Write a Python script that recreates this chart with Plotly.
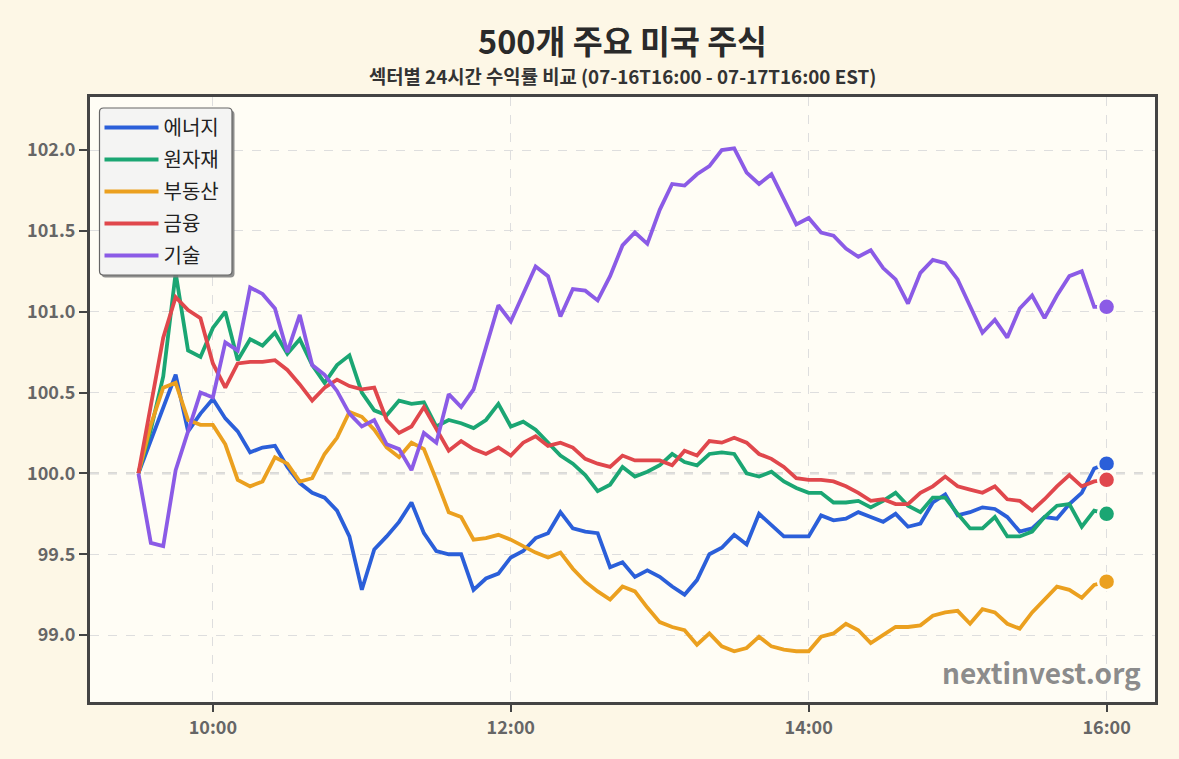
import pandas as pd
import plotly.graph_objects as go

times = pd.date_range("2024-07-17 09:30", "2024-07-17 16:00", freq="5min")

sector_names = ["에너지", "원자재", "부동산", "금융", "기술"]
sector_colors = ["#2b5fd9", "#1ba673", "#eba01f", "#e0474c", "#8b5be6"]

energy = [100.00, 100.20, 100.41, 100.61, 100.26, 100.37, 100.46, 100.34, 100.26, 100.13,
          100.16, 100.17, 100.04, 99.94, 99.88, 99.85, 99.77, 99.61, 99.28, 99.53,
          99.61, 99.70, 99.82, 99.63, 99.52, 99.50, 99.50, 99.28, 99.35, 99.38,
          99.48, 99.52, 99.60, 99.63, 99.76, 99.66, 99.64, 99.63, 99.42, 99.45,
          99.36, 99.40, 99.36, 99.30, 99.25, 99.34, 99.50, 99.54, 99.62, 99.56,
          99.75, 99.68, 99.61, 99.61, 99.61, 99.74, 99.71, 99.72, 99.76, 99.73,
          99.70, 99.75, 99.67, 99.69, 99.82, 99.87, 99.74, 99.76, 99.79, 99.78,
          99.73, 99.64, 99.66, 99.73, 99.72, 99.81, 99.88, 100.03, 100.06]

materials = [100.00, 100.27, 100.60, 101.24, 100.76, 100.72, 100.90, 101.00, 100.70, 100.83,
             100.79, 100.87, 100.74, 100.83, 100.67, 100.56, 100.67, 100.73, 100.50, 100.39,
             100.36, 100.45, 100.43, 100.44, 100.29, 100.33, 100.31, 100.28, 100.33, 100.43,
             100.29, 100.32, 100.27, 100.19, 100.11, 100.06, 99.99, 99.89, 99.93, 100.04,
             99.98, 100.01, 100.05, 100.12, 100.07, 100.05, 100.12, 100.13, 100.12, 100.00,
             99.98, 100.01, 99.95, 99.91, 99.88, 99.88, 99.82, 99.82, 99.83, 99.79,
             99.83, 99.88, 99.80, 99.76, 99.85, 99.85, 99.75, 99.66, 99.66, 99.73,
             99.61, 99.61, 99.64, 99.73, 99.80, 99.81, 99.67, 99.77, 99.75]

real_estate = [100.00, 100.30, 100.53, 100.56, 100.33, 100.30, 100.30, 100.18, 99.96, 99.92,
               99.95, 100.10, 100.06, 99.95, 99.97, 100.12, 100.22, 100.38, 100.35, 100.27,
               100.16, 100.10, 100.19, 100.15, 99.96, 99.76, 99.73, 99.59, 99.60, 99.62,
               99.59, 99.55, 99.51, 99.48, 99.51, 99.41, 99.33, 99.27, 99.22, 99.30,
               99.27, 99.17, 99.08, 99.05, 99.03, 98.94, 99.01, 98.93, 98.90, 98.92,
               98.99, 98.93, 98.91, 98.90, 98.90, 98.99, 99.01, 99.07, 99.03, 98.95,
               99.00, 99.05, 99.05, 99.06, 99.12, 99.14, 99.15, 99.07, 99.16, 99.14,
               99.07, 99.04, 99.14, 99.22, 99.30, 99.28, 99.23, 99.31, 99.33]

financials = [100.00, 100.42, 100.84, 101.09, 101.01, 100.96, 100.68, 100.53, 100.68, 100.69,
              100.69, 100.70, 100.64, 100.55, 100.45, 100.53, 100.58, 100.54, 100.52, 100.53,
              100.33, 100.25, 100.29, 100.41, 100.27, 100.14, 100.20, 100.15, 100.12, 100.16,
              100.11, 100.19, 100.23, 100.17, 100.19, 100.16, 100.09, 100.06, 100.04, 100.11,
              100.08, 100.08, 100.08, 100.05, 100.14, 100.11, 100.20, 100.19, 100.22, 100.19,
              100.12, 100.09, 100.04, 99.97, 99.96, 99.96, 99.95, 99.92, 99.88, 99.83,
              99.84, 99.81, 99.81, 99.88, 99.92, 99.98, 99.92, 99.90, 99.88, 99.92,
              99.84, 99.83, 99.77, 99.84, 99.92, 99.99, 99.92, 99.95, 99.96]

technology = [100.00, 99.57, 99.55, 100.02, 100.26, 100.50, 100.47, 100.81, 100.76, 101.15,
              101.11, 101.02, 100.75, 100.98, 100.67, 100.61, 100.51, 100.37, 100.29, 100.33,
              100.18, 100.15, 100.02, 100.25, 100.19, 100.49, 100.41, 100.52, 100.78, 101.04,
              100.94, 101.11, 101.28, 101.22, 100.97, 101.14, 101.13, 101.07, 101.22, 101.41,
              101.49, 101.42, 101.63, 101.79, 101.78, 101.85, 101.90, 102.00, 102.01, 101.86,
              101.79, 101.85, 101.70, 101.54, 101.58, 101.49, 101.47, 101.39, 101.34, 101.38,
              101.27, 101.20, 101.05, 101.24, 101.32, 101.30, 101.20, 101.03, 100.87, 100.95,
              100.84, 101.02, 101.10, 100.96, 101.10, 101.22, 101.25, 101.03, 101.03]

series = [energy, materials, real_estate, financials, technology]

y_ticks = [99.0, 99.5, 100.0, 100.5, 101.0, 101.5, 102.0]
x_tick_labels = ["10:00", "12:00", "14:00", "16:00"]

PAPER = "#fdf7e6"
PLOT = "#fffdf5"
FONT = "Noto Sans CJK KR"

# plot area in pixels
L, R, T, B = 90, 24, 97, 57
W, H = 1179 - L - R, 759 - T - B


def px_x(p):
    return (p - L) / W


def px_y(p):
    return 1 - (p - T) / H


def rounded_rect(x0, y0, x1, y1, r):
    """SVG path (paper coords) of a rectangle with rounded corners, given in pixels."""
    pts = [
        f"M {px_x(x0 + r)},{px_y(y0)}",
        f"L {px_x(x1 - r)},{px_y(y0)}",
        f"Q {px_x(x1)},{px_y(y0)} {px_x(x1)},{px_y(y0 + r)}",
        f"L {px_x(x1)},{px_y(y1 - r)}",
        f"Q {px_x(x1)},{px_y(y1)} {px_x(x1 - r)},{px_y(y1)}",
        f"L {px_x(x0 + r)},{px_y(y1)}",
        f"Q {px_x(x0)},{px_y(y1)} {px_x(x0)},{px_y(y1 - r)}",
        f"L {px_x(x0)},{px_y(y0 + r)}",
        f"Q {px_x(x0)},{px_y(y0)} {px_x(x0 + r)},{px_y(y0)}",
        "Z",
    ]
    return " ".join(pts)


fig = go.Figure()

for name, color, vals in zip(sector_names, sector_colors, series):
    fig.add_trace(go.Scatter(
        x=times, y=vals, mode="lines", name=name, legendgroup=name,
        line=dict(color=color, width=3.8),
    ))

for name, color, vals in zip(sector_names, sector_colors, series):
    fig.add_trace(go.Scatter(
        x=[times[-1]], y=[vals[-1]], mode="markers", showlegend=False,
        legendgroup=name,
        marker=dict(color=color, size=17, line=dict(color=PLOT, width=2.5)),
    ))

fig.add_hline(y=100.0, line=dict(color="#b5b5b5", width=1.6, dash="dash"), layer="below")

x_tick_vals = [pd.Timestamp("2024-07-17 " + t) for t in x_tick_labels]

# legend frame: shadow + rounded box (drawn as shapes, legend itself transparent)
fig.add_shape(type="path", xref="paper", yref="paper",
              path=rounded_rect(101.5, 110.5, 234.5, 277.5, 4),
              fillcolor="#7a7a7a", line=dict(width=0), layer="above", opacity=0.85)
fig.add_shape(type="path", xref="paper", yref="paper",
              path=rounded_rect(99.5, 108, 232, 275, 4),
              fillcolor="#f4f4f3", line=dict(color="#666", width=1.2), layer="above")

fig.update_layout(
    width=1179, height=759,
    paper_bgcolor=PAPER, plot_bgcolor=PLOT,
    margin=dict(l=L, r=R, t=T, b=B),
    font=dict(family=FONT, color="#555"),
    showlegend=True,
    legend=dict(
        x=px_x(99.5), y=px_y(108), xanchor="left", yanchor="top",
        bgcolor="rgba(0,0,0,0)", borderwidth=0,
        font=dict(family=FONT, size=20, color="#222"),
        itemwidth=54, tracegroupgap=3,
    ),
    xaxis=dict(
        range=[pd.Timestamp("2024-07-17 09:10:30"), pd.Timestamp("2024-07-17 16:19:30")],
        tickvals=x_tick_vals, ticktext=x_tick_labels,
        showgrid=True, gridcolor="#dedede", griddash="dash", gridwidth=1,
        showline=True, linecolor="#444", linewidth=3, mirror=True,
        ticks="outside", ticklen=7, tickcolor="#444", tickwidth=2,
        tickfont=dict(family=FONT, size=18, color="#666", weight="bold"),
        zeroline=False,
    ),
    yaxis=dict(
        range=[98.586, 102.328],
        tickvals=y_ticks, tickformat=".1f",
        showgrid=True, gridcolor="#dedede", griddash="dash", gridwidth=1,
        showline=True, linecolor="#444", linewidth=3, mirror=True,
        ticks="outside", ticklen=8, tickcolor="#444", tickwidth=2,
        tickfont=dict(family=FONT, size=18, color="#666", weight="bold"),
        zeroline=False,
    ),
    annotations=[
        dict(text="500개 주요 미국 주식", xref="paper", yref="paper", x=0.5, y=px_y(40),
             xanchor="center", yanchor="middle", showarrow=False,
             font=dict(family=FONT, size=32.5, color="#2a2a2a", weight="bold")),
        dict(text="섹터별 24시간 수익률 비교 (07-16T16:00 - 07-17T16:00 EST)", xref="paper", yref="paper",
             x=0.5, y=px_y(75), xanchor="center", yanchor="middle", showarrow=False,
             font=dict(family=FONT, size=18.8, color="#333", weight="bold")),
        dict(text="nextinvest.org", xref="paper", yref="paper", x=px_x(1143), y=px_y(694),
             xanchor="right", yanchor="bottom", showarrow=False,
             font=dict(family=FONT, size=28, color="#8c8c8c", weight="bold")),
    ],
)

fig.write_html("out.html")
